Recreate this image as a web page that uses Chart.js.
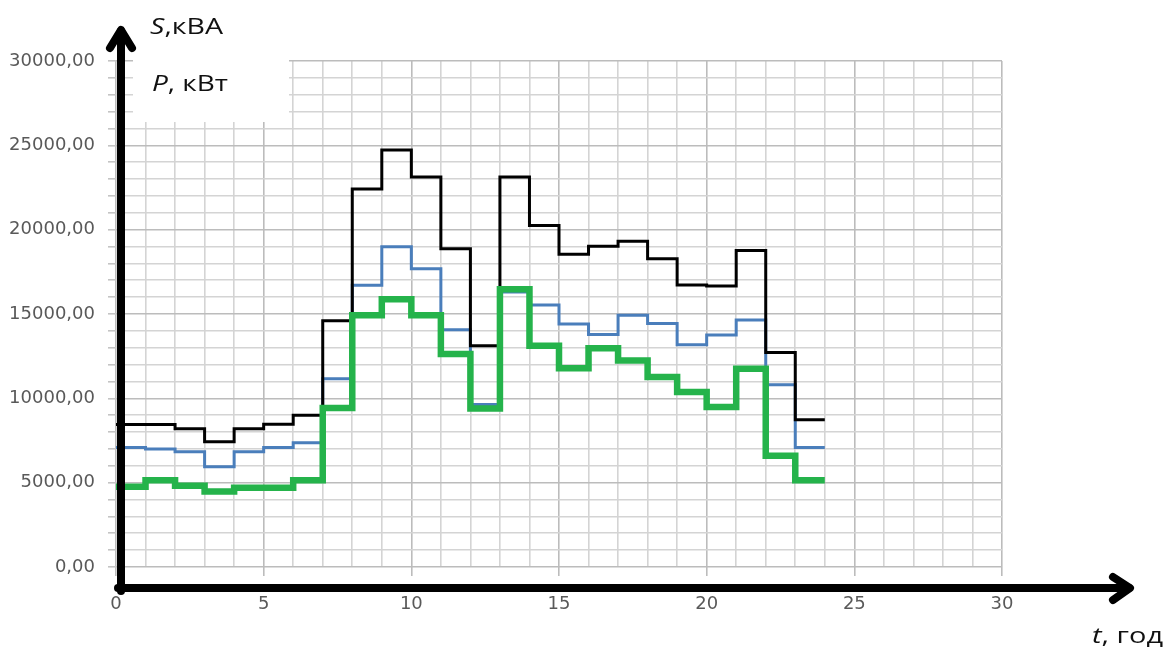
<!DOCTYPE html>
<html>
<head>
<meta charset="utf-8">
<script src="https://cdn.jsdelivr.net/npm/chart.js@4"></script>
<style>
  body { margin: 0; background: #fff; }
</style>
</head>
<body>
<canvas id="loadChart" width="1169" height="651"></canvas>
<script>
// hour of the day at which each step starts
var hours = [0, 1, 2, 3, 4, 5, 6, 7, 8, 9, 10, 11, 12, 13, 14, 15, 16, 17, 18, 19, 20, 21, 22, 23];

// S, кВА (black)
var sValues = [8450, 8450, 8200, 7420, 8200, 8460, 9000, 14600, 22410, 24730, 23120, 18870,
  13120, 23120, 20250, 18540, 19020, 19320, 18280, 16720, 16660, 18770, 12710, 8730];
// P, кВт (blue)
var pValues = [7080, 6990, 6830, 5940, 6830, 7080, 7360, 11160, 16700, 18990, 17690, 14070,
  9640, 16300, 15540, 14400, 13780, 14930, 14440, 13180, 13750, 14640, 10810, 7080];
// green curve
var gValues = [4760, 5150, 4820, 4470, 4700, 4700, 5150, 9430, 14930, 15880, 14930, 12630,
  9390, 16470, 13120, 11790, 12970, 12240, 11260, 10370, 9490, 11750, 6590, 5150];

var xTickLabels = ['0', '5', '10', '15', '20', '25', '30'];
var yTickLabels = ['0,00', '5000,00', '10000,00', '15000,00', '20000,00', '25000,00', '30000,00'];

// each hour value holds until the next hour, so add the closing point at the end
function toSteps(values) {
  var pts = values.map(function (v, i) { return { x: hours[i], y: v }; });
  pts.push({ x: hours[hours.length - 1] + 1, y: values[values.length - 1] });
  return pts;
}

function drawLabel(ctx, italicPart, rest, x, baseline, width) {
  ctx.font = 'italic 21px "Open Sans"';
  var w1 = ctx.measureText(italicPart).width;
  ctx.font = '21px "Open Sans"';
  var w2 = ctx.measureText(rest).width;
  var k = width / (w1 + w2);
  ctx.save();
  ctx.translate(x, baseline);
  ctx.scale(k, 1);
  ctx.fillStyle = '#111';
  ctx.textBaseline = 'alphabetic';
  ctx.textAlign = 'left';
  ctx.font = 'italic 21px "Open Sans"';
  ctx.fillText(italicPart, 0, 0);
  ctx.font = '21px "Open Sans"';
  ctx.fillText(rest, w1, 0);
  ctx.restore();
}

var decor = {
  id: 'decor',
  beforeDatasetsDraw: function (chart) {
    // white box behind the axis captions
    var ctx = chart.ctx;
    ctx.save();
    ctx.fillStyle = '#fff';
    ctx.fillRect(133, 0, 156, 122);
    ctx.restore();
  },
  afterDraw: function (chart) {
    var ctx = chart.ctx;
    var area = chart.chartArea;
    ctx.save();
    ctx.strokeStyle = '#000';
    ctx.lineWidth = 8;
    ctx.lineCap = 'round';
    ctx.lineJoin = 'round';

    // vertical arrow
    ctx.beginPath();
    ctx.moveTo(area.left + 5, area.bottom + 24);
    ctx.lineTo(area.left + 5, 31);
    ctx.stroke();
    ctx.beginPath();
    ctx.moveTo(area.left - 6, 48);
    ctx.lineTo(area.left + 5, 30);
    ctx.lineTo(area.left + 16, 48);
    ctx.stroke();

    // horizontal arrow
    ctx.beginPath();
    ctx.moveTo(area.left + 2, area.bottom + 21);
    ctx.lineTo(1129, area.bottom + 21);
    ctx.stroke();
    ctx.beginPath();
    ctx.moveTo(1113, area.bottom + 10);
    ctx.lineTo(1130, area.bottom + 21);
    ctx.lineTo(1113, area.bottom + 33);
    ctx.stroke();
    ctx.restore();

    drawLabel(ctx, 'S', ',кВА', 150, 34, 73);
    drawLabel(ctx, 'P', ', кВт', 152, 91, 76);
    drawLabel(ctx, 't', ', год', 1092, 643, 71);
  }
};

var chart = new Chart(document.getElementById('loadChart'), {
  type: 'line',
  data: {
    datasets: [{
      label: 'green',
      data: toSteps(gValues),
      borderColor: '#25b34b',
      borderWidth: 6.5,
      order: 0
    }, {
      label: 'S, кВА',
      data: toSteps(sValues),
      borderColor: '#000',
      borderWidth: 3,
      order: 1
    }, {
      label: 'P, кВт',
      data: toSteps(pValues),
      borderColor: '#4a7ebb',
      borderWidth: 3,
      order: 2
    }]
  },
  options: {
    responsive: false,
    animation: false,
    devicePixelRatio: 1,
    layout: { padding: { top: 61, right: 167, bottom: 0, left: 0 } },
    elements: {
      point: { radius: 0 },
      line: { stepped: 'before', tension: 0, borderJoinStyle: 'miter', borderCapStyle: 'butt' }
    },
    plugins: {
      legend: { display: false },
      tooltip: { enabled: false }
    },
    scales: {
      x: {
        type: 'linear',
        min: 0,
        max: 30,
        afterFit: function (scale) { scale.height = 84; },
        border: { display: false },
        grid: {
          color: function (c) { return c.tick.value % 5 === 0 ? '#bcbcbc' : '#d4d4d4'; },
          lineWidth: 1.6,
          tickLength: 9,
          tickColor: function (c) { return c.tick.value % 5 === 0 ? '#bcbcbc' : 'rgba(0,0,0,0)'; }
        },
        ticks: {
          stepSize: 1,
          maxRotation: 0,
          autoSkip: false,
          padding: 18,
          color: '#595959',
          font: { family: 'DejaVu Sans', size: 18 },
          callback: function (v) { return v % 5 === 0 ? xTickLabels[v / 5] : ''; }
        }
      },
      y: {
        min: 0,
        max: 30000,
        afterFit: function (scale) { scale.width = 116; },
        border: { display: false },
        grid: {
          color: function (c) { return c.tick.value % 5000 === 0 ? '#bcbcbc' : '#d4d4d4'; },
          lineWidth: 1.6,
          tickLength: 8,
          tickColor: '#c4c4c4'
        },
        ticks: {
          stepSize: 1000,
          autoSkip: false,
          padding: 13,
          color: '#595959',
          font: { family: 'DejaVu Sans', size: 18 },
          callback: function (v) { return v % 5000 === 0 ? yTickLabels[v / 5000] : ''; }
        }
      }
    }
  },
  plugins: [decor]
});
</script>
</body>
</html>
